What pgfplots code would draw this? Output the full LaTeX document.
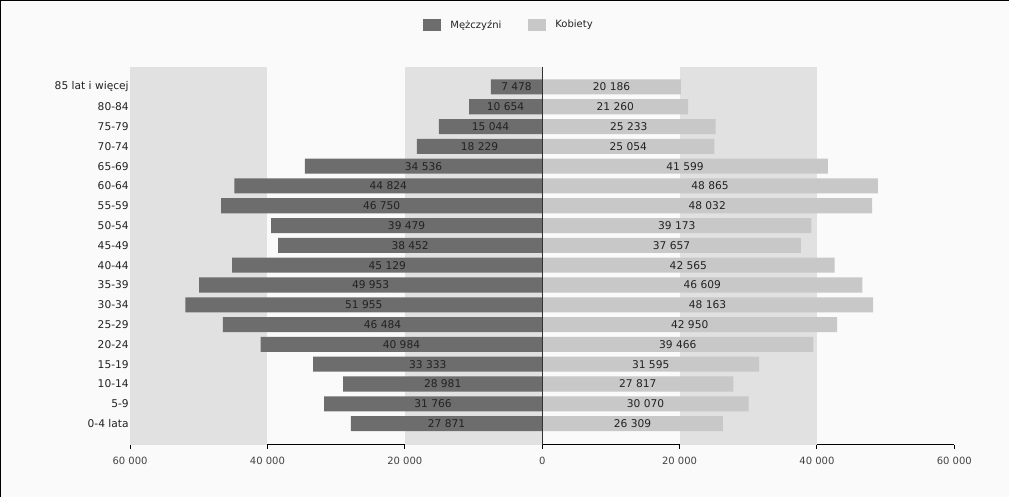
\documentclass[border=0pt]{standalone}
\usepackage{fontspec}
\setmainfont{DejaVu Sans}
\usepackage{pgfplots}
\pgfplotsset{compat=1.18}
\usepackage{pgfplotstable}
\definecolor{male}{HTML}{6D6D6D}
\definecolor{female}{HTML}{C8C8C8}
\definecolor{band}{HTML}{E1E1E1}
\definecolor{bg}{HTML}{FAFAFA}
\definecolor{txt}{HTML}{222222}

\pgfplotstableread[col sep=comma]{
idx,male,female,mlab,flab
0,-27871,26309,27 871,26 309
1,-31766,30070,31 766,30 070
2,-28981,27817,28 981,27 817
3,-33333,31595,33 333,31 595
4,-40984,39466,40 984,39 466
5,-46484,42950,46 484,42 950
6,-51955,48163,51 955,48 163
7,-49953,46609,49 953,46 609
8,-45129,42565,45 129,42 565
9,-38452,37657,38 452,37 657
10,-39479,39173,39 479,39 173
11,-46750,48032,46 750,48 032
12,-44824,48865,44 824,48 865
13,-34536,41599,34 536,41 599
14,-18229,25054,18 229,25 054
15,-15044,25233,15 044,25 233
16,-10654,21260,10 654,21 260
17,-7478,20186,7 478,20 186
}\data

\begin{document}
\begin{tikzpicture}
\fill[bg] (0,0) rectangle (757.5pt,372.75pt);
\draw[black, line width=1.1pt] (0.4pt,0pt) -- (0.4pt,372.2pt) -- (757.5pt,372.2pt);
\begin{axis}[
  at={(97.5pt,39pt)}, anchor=south west,
  scale only axis, width=618.75pt, height=283.5pt,
  xmin=-60000, xmax=60000, ymin=-1.06, ymax=18.01,
  axis x line*=bottom, axis y line*=left,
  y axis line style={draw=none},
  x axis line style={black, line width=0.9pt},
  xtick={-60000,-40000,-20000,0,20000,40000,60000},
  xticklabels={60 000,40 000,20 000,0,20 000,40 000,60 000},
  ytick={0,...,17},
  yticklabels={0-4 lata,5-9,10-14,15-19,20-24,25-29,30-34,35-39,40-44,45-49,50-54,55-59,60-64,65-69,70-74,75-79,80-84,85 lat i więcej},
  ytick style={draw=none},
  xtick style={draw=black, line width=0.75pt},
  tick align=outside, major tick length=3pt,
  xticklabel style={font=\fontsize{7.5}{9}\selectfont, text=txt!85, yshift=-3pt},
  yticklabel style={font=\fontsize{8}{9}\selectfont, text=txt, xshift=5.5pt},
  scaled x ticks=false,
  legend style={at={(rel axis cs:0.46,1.111)}, anchor=center, draw=none, fill=none,
    legend columns=2, font=\fontsize{7.5}{9}\selectfont, text=txt,
    /tikz/every odd column/.append style={column sep=5pt},
    /tikz/every even column/.append style={column sep=18pt}},
  legend image code/.code={\fill (0pt,-4.5pt) rectangle (13.5pt,4.5pt);},
  every node near coord/.append style={anchor=center, font=\fontsize{8}{9}\selectfont, text=txt},
]
\fill[band] (axis cs:-60000,-1.06) rectangle (axis cs:-40000,18.01);
\fill[band] (axis cs:-20000,-1.06) rectangle (axis cs:0,18.01);
\fill[band] (axis cs:20000,-1.06) rectangle (axis cs:40000,18.01);
\addplot[xbar, bar shift=0pt, bar width=0.76, fill=male, draw=none] table[x=male, y=idx] {\data};
\addlegendentry{Mężczyźni}
\addplot[xbar, bar shift=0pt, bar width=0.76, fill=female, draw=none] table[x=female, y=idx] {\data};
\addlegendentry{Kobiety}
\addplot[draw=none, mark=none, forget plot, nodes near coords, point meta=explicit symbolic] table[x expr=\thisrow{male}/2, y=idx, meta=mlab] {\data};
\addplot[draw=none, mark=none, forget plot, nodes near coords, point meta=explicit symbolic] table[x expr=\thisrow{female}/2, y=idx, meta=flab] {\data};
\draw[black!80, line width=0.9pt] (axis cs:0,-1.06) -- (axis cs:0,18.01);
\end{axis}
\end{tikzpicture}
\end{document}
